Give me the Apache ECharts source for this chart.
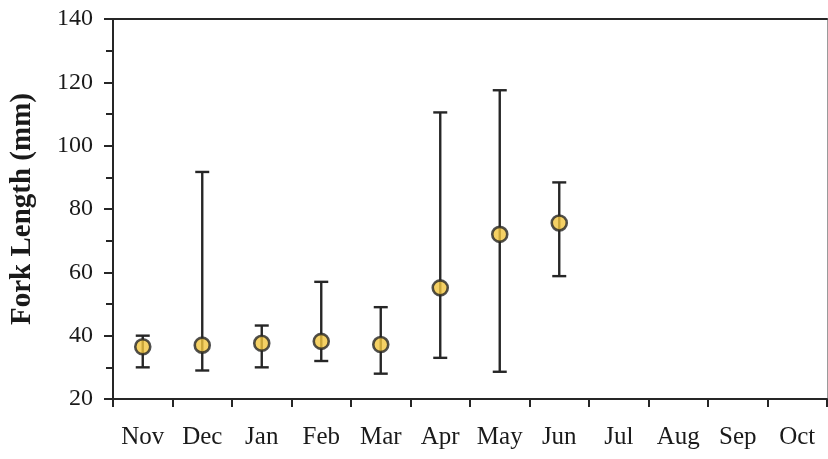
<!DOCTYPE html>
<html>
<head>
<meta charset="utf-8">
<script src="https://cdn.jsdelivr.net/npm/echarts@6/dist/echarts.min.js"></script>
<style>
  html, body { margin: 0; padding: 0; background: #fff; }
  #chart { width: 828px; height: 459px; }
</style>
</head>
<body>
<div id="chart"></div>
<script>
const months = ["Nov", "Dec", "Jan", "Feb", "Mar", "Apr", "May", "Jun", "Jul", "Aug", "Sep", "Oct"]
const meanLength = [36.5, 37, 37.6, 38.2, 37.2, 55.1, 72, 75.6]
const minLength = [30, 29, 30, 32, 28, 33, 28.6, 58.8]
const maxLength = [40, 91.7, 43.2, 57, 49, 110.5, 117.5, 88.4]

const ink = "#262626"

const chart = echarts.init(document.getElementById("chart"))

const errorData = meanLength.map((m, i) => [i, minLength[i], maxLength[i]])
const pointData = meanLength.map((m, i) => [i, m])

const option = {
  animation: false,
  grid: { left: 111, right: 1, top: 19, bottom: 60 },
  xAxis: [
    {
      type: "category",
      data: months,
      boundaryGap: true,
      axisLine: { lineStyle: { color: ink, width: 2 } },
      axisTick: { show: true, interval: 0, length: 8, lineStyle: { color: ink, width: 2 } },
      axisLabel: {
        interval: 0,
        hideOverlap: false,
        color: "#1a1a1a",
        fontFamily: "Liberation Serif",
        fontSize: 25,
        margin: 26,
      },
    },
    {
      type: "category",
      data: months,
      position: "top",
      axisLine: { lineStyle: { color: ink, width: 2 } },
      axisTick: { show: false },
      axisLabel: { show: false },
    },
  ],
  yAxis: [
    {
      type: "value",
      min: 20,
      max: 140,
      interval: 20,
      name: "Fork Length (mm)",
      nameLocation: "middle",
      nameGap: 76,
      nameTextStyle: {
        color: "#1a1a1a",
        fontFamily: "Liberation Serif",
        fontWeight: "bold",
        fontSize: 29,
      },
      axisLine: { show: true, lineStyle: { color: ink, width: 2 } },
      axisTick: { show: true, length: 9, lineStyle: { color: ink, width: 2 } },
      minorTick: { show: true, splitNumber: 2, length: 7, lineStyle: { color: ink, width: 2 } },
      splitLine: { show: false },
      axisLabel: {
        color: "#1a1a1a",
        fontFamily: "Liberation Serif",
        fontSize: 24,
        margin: 20,
      },
    },
    {
      type: "value",
      min: 20,
      max: 140,
      position: "right",
      axisLine: { show: true, lineStyle: { color: "#9a9a9a", width: 1 } },
      axisTick: { show: false },
      axisLabel: { show: false },
      splitLine: { show: false },
    },
  ],
  series: [
    {
      name: "Range",
      type: "custom",
      data: errorData,
      z: 2,
      renderItem: (params, api) => {
        const x = api.value(0)
        const lo = api.coord([x, api.value(1)])
        const hi = api.coord([x, api.value(2)])
        const half = 7
        const style = { stroke: ink, lineWidth: 2.4 }
        return {
          type: "group",
          children: [
            { type: "line", shape: { x1: lo[0], y1: lo[1], x2: hi[0], y2: hi[1] }, style },
            { type: "line", shape: { x1: lo[0] - half, y1: lo[1], x2: lo[0] + half, y2: lo[1] }, style },
            { type: "line", shape: { x1: hi[0] - half, y1: hi[1], x2: hi[0] + half, y2: hi[1] }, style },
          ],
        }
      },
    },
    {
      name: "Mean",
      type: "scatter",
      data: pointData,
      symbol: "circle",
      symbolSize: 15,
      z: 3,
      itemStyle: { color: "#f2c63e", borderColor: ink, borderWidth: 2.6 },
    },
  ],
}

chart.setOption(option)
</script>
</body>
</html>
